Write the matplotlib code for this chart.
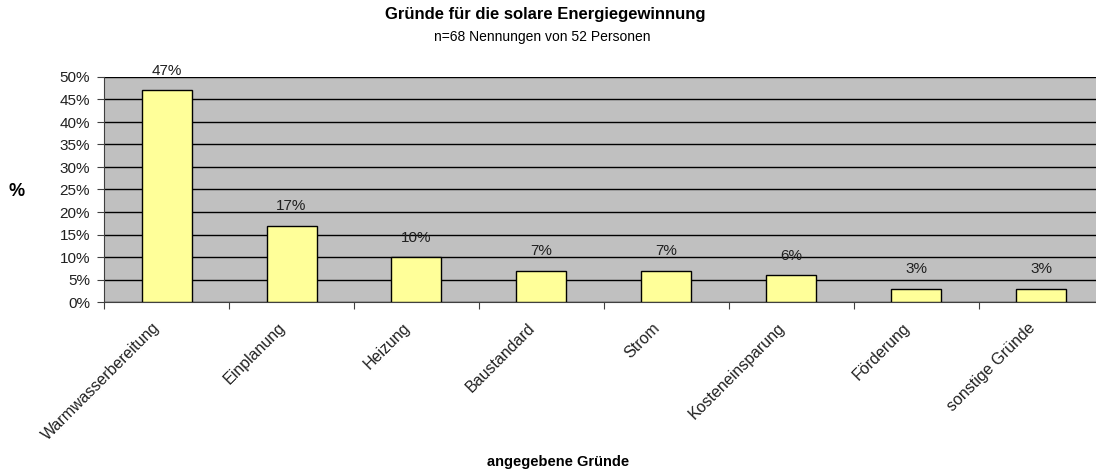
import matplotlib.pyplot as plt
import matplotlib.transforms as mtransforms
import numpy as np

plt.rcParams['font.family'] = ['Liberation Sans', 'DejaVu Sans']

# ---------- data ----------
reasons = ['Warmwasserbereitung', 'Einplanung', 'Heizung', 'Baustandard',
           'Strom', 'Kosteneinsparung', 'Förderung', 'sonstige Gründe']
shares = [47, 17, 10, 7, 7, 6, 3, 3]
yticks = [0, 5, 10, 15, 20, 25, 30, 35, 40, 45, 50]

# ---------- figure ----------
W, H = 1096, 469
fig = plt.figure(figsize=(W / 100, H / 100), dpi=100)
# plot area runs a bit past the right edge, like the original
left, right, top, bottom = 104, 1104, 77, 302
ax = fig.add_axes([left / W, 1 - bottom / H, (right - left) / W, (bottom - top) / H])
ax.set_facecolor('#C0C0C0')

x = np.arange(len(reasons))
ax.bar(x, shares, width=0.4, color='#FFFF99', edgecolor='black', linewidth=1, zorder=3)

for xi, v in zip(x, shares):
    ax.annotate(f'{v}%', (xi, v), xytext=(0, 9), textcoords='offset points',
                ha='center', va='bottom', fontsize=11, color='#202020')

ax.set_xlim(-0.5, len(reasons) - 0.5)
ax.set_ylim(0, 50)
ax.set_yticks(yticks)
ax.set_yticklabels([f'{t}%' for t in yticks], fontsize=11, color='#202020')
ax.yaxis.grid(True, color='black', linewidth=1, zorder=1)
ax.set_axisbelow(True)

# category ticks at boundaries, labels at centres
ax.set_xticks(np.arange(len(reasons) + 1) - 0.5)
ax.set_xticklabels([])
ax.set_xticks(x, minor=True)
ax.set_xticklabels(reasons, minor=True, rotation=45, ha='right',
                   rotation_mode='anchor', fontsize=11.5, color='#202020')
ax.tick_params(axis='x', which='minor', length=0, pad=13)
ax.tick_params(axis='x', which='major', length=5, color='#404040')
ax.tick_params(axis='y', length=5, color='#404040', pad=5)

shift = mtransforms.ScaledTranslation(-14 / 100, 0, fig.dpi_scale_trans)
for lab in ax.get_xticklabels(minor=True):
    lab.set_transform(lab.get_transform() + shift)

for s in ['top', 'right']:
    ax.spines[s].set_visible(False)
ax.spines['left'].set_color('#404040')
ax.spines['bottom'].set_color('#404040')

fig.text(545 / W, 1 - 15 / H, 'Gründe für die solare Energiegewinnung',
         ha='center', va='center', fontsize=12, fontweight='bold')
fig.text(542 / W, 1 - 37 / H, 'n=68 Nennungen von 52 Personen',
         ha='center', va='center', fontsize=10)
fig.text(17 / W, 1 - 191 / H, '%', ha='center', va='center',
         fontsize=13, fontweight='bold')
fig.text(558 / W, 1 - 462 / H, 'angegebene Gründe', ha='center', va='center',
         fontsize=10.5, fontweight='bold')

fig.savefig('out.png', dpi=100)
